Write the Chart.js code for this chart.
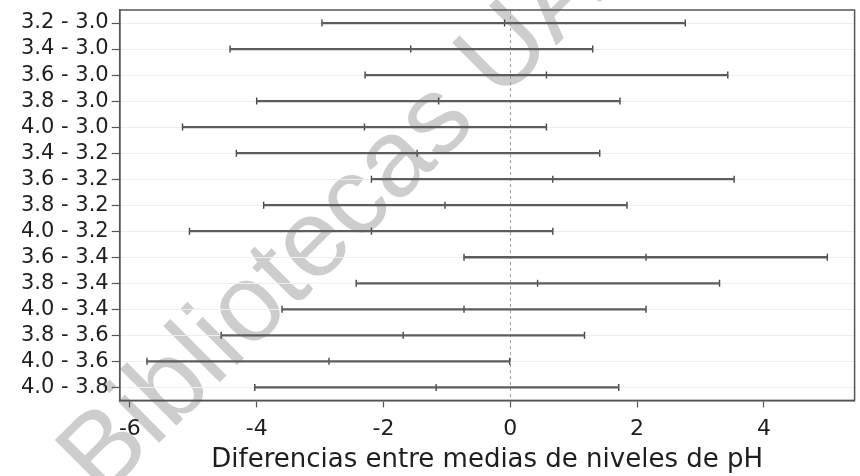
<!DOCTYPE html>
<html>
<head>
<meta charset="utf-8">
<script src="https://cdn.jsdelivr.net/npm/chart.js@4/dist/chart.umd.min.js"></script>
<style>
  html, body { margin: 0; padding: 0; background: #ffffff; }
  #wrap { width: 860px; height: 476px; position: relative; }
</style>
</head>
<body>
<div id="wrap"><canvas id="c"></canvas></div>
<script>
// Pairwise pH comparisons (Tukey-style confidence intervals)
const comparisons = [
  '3.2 - 3.0', '3.4 - 3.0', '3.6 - 3.0', '3.8 - 3.0', '4.0 - 3.0',
  '3.4 - 3.2', '3.6 - 3.2', '3.8 - 3.2', '4.0 - 3.2',
  '3.6 - 3.4', '3.8 - 3.4', '4.0 - 3.4',
  '3.8 - 3.6', '4.0 - 3.6',
  '4.0 - 3.8'
];
const lowerBounds = [-2.97, -4.42, -2.29, -4.00, -5.17, -4.32, -2.19, -3.89, -5.06, -0.73, -2.43, -3.60, -4.56, -5.73, -4.03];
const meanDiffs   = [-0.09, -1.57,  0.57, -1.13, -2.30, -1.47,  0.67, -1.03, -2.19,  2.14,  0.43, -0.73, -1.69, -2.86, -1.17];
const upperBounds = [ 2.76,  1.30,  3.43,  1.73,  0.57,  1.41,  3.53,  1.84,  0.67,  5.00,  3.30,  2.14,  1.17, -0.01,  1.71];
const xTickValues = [-6, -4, -2, 0, 2, 4];
const xAxisTitle = 'Diferencias entre medias de niveles de pH';
const watermarkText = 'Bibliotecas UA';

const INK = '#1e1e1e';
const LINE = '#555555';

const tickPoints = (vals) => comparisons.map((c, i) => ({ x: vals[i], y: c }));
const capStyle = {
  type: 'line',
  indexAxis: 'y',
  showLine: false,
  pointStyle: 'line',
  rotation: 90,
  radius: 3.5,
  borderWidth: 1.4,
  borderColor: '#444444',
  backgroundColor: '#444444'
};

// keep the plot box flush with the layout padding
const noEdgePadding = (scale) => {
  scale.paddingTop = 0;
  scale.paddingBottom = 0;
  scale.paddingLeft = 0;
  scale.paddingRight = 0;
};

const framePlugin = {
  id: 'frame',
  beforeDraw(chart) {
    // light diagonal stamp behind everything
    const ctx = chart.ctx;
    ctx.save();
    ctx.translate(102, 500);
    ctx.rotate(-45 * Math.PI / 180);
    ctx.font = '110px "Liberation Sans", Arial, sans-serif';
    ctx.fillStyle = '#cdcdcd';
    ctx.textAlign = 'left';
    ctx.textBaseline = 'alphabetic';
    ctx.fillText(watermarkText, 0, 0);
    ctx.restore();
  },
  beforeDatasetsDraw(chart) {
    const { ctx, chartArea: a, scales } = chart;
    const x0 = scales.x.getPixelForValue(0);
    ctx.save();
    ctx.strokeStyle = '#9a9a9a';
    ctx.lineWidth = 1;
    ctx.setLineDash([3, 3]);
    ctx.beginPath();
    ctx.moveTo(Math.round(x0) + 0.5, a.top);
    ctx.lineTo(Math.round(x0) + 0.5, a.bottom);
    ctx.stroke();
    ctx.restore();
  },
  afterDatasetsDraw(chart) {
    const { ctx, chartArea: a } = chart;
    ctx.save();
    ctx.strokeStyle = LINE;
    ctx.lineWidth = 1.5;
    ctx.strokeRect(a.left, a.top, a.right - a.left, a.bottom - a.top);
    ctx.restore();
  }
};

new Chart(document.getElementById('c'), {
  type: 'bar',
  data: {
    labels: comparisons,
    datasets: [
      {
        type: 'bar',
        data: comparisons.map((c, i) => [lowerBounds[i], upperBounds[i]]),
        backgroundColor: '#5c5c5c',
        borderWidth: 0,
        barThickness: 1.6,
        borderSkipped: false
      },
      Object.assign({ data: tickPoints(lowerBounds) }, capStyle),
      Object.assign({ data: tickPoints(meanDiffs) }, capStyle),
      Object.assign({ data: tickPoints(upperBounds) }, capStyle)
    ]
  },
  options: {
    indexAxis: 'y',
    responsive: true,
    maintainAspectRatio: false,
    animation: false,
    layout: { padding: { left: 18, right: -1, top: 10, bottom: 0 } },
    plugins: {
      legend: { display: false },
      tooltip: { enabled: false },
      title: { display: false }
    },
    scales: {
      x: {
        type: 'linear',
        position: 'bottom',
        min: -6.16,
        max: 5.43,
        afterBuildTicks(scale) {
          scale.ticks = xTickValues.map(v => ({ value: v }));
        },
        afterFit: noEdgePadding,
        grid: {
          drawOnChartArea: false,
          tickLength: 7,
          tickColor: LINE,
          tickWidth: 1.2
        },
        border: { display: true, color: LINE, width: 1.5 },
        ticks: {
          color: INK,
          padding: 9,
          font: { family: '"DejaVu Sans", sans-serif', size: 22 }
        },
        title: {
          display: true,
          text: xAxisTitle,
          color: INK,
          padding: { top: -7, bottom: 0 },
          font: { family: '"DejaVu Sans", sans-serif', size: 26 }
        }
      },
      y: {
        type: 'category',
        offset: true,
        afterFit: noEdgePadding,
        grid: {
          offset: false,
          color: '#eeeeee',
          lineWidth: 1,
          tickLength: 8,
          tickColor: LINE,
          tickWidth: 1.2
        },
        border: { display: true, color: LINE, width: 1.5 },
        ticks: {
          autoSkip: false,
          color: INK,
          padding: 3,
          font: { family: '"DejaVu Sans", sans-serif', size: 21 }
        }
      }
    }
  },
  plugins: [framePlugin]
});
</script>
</body>
</html>
